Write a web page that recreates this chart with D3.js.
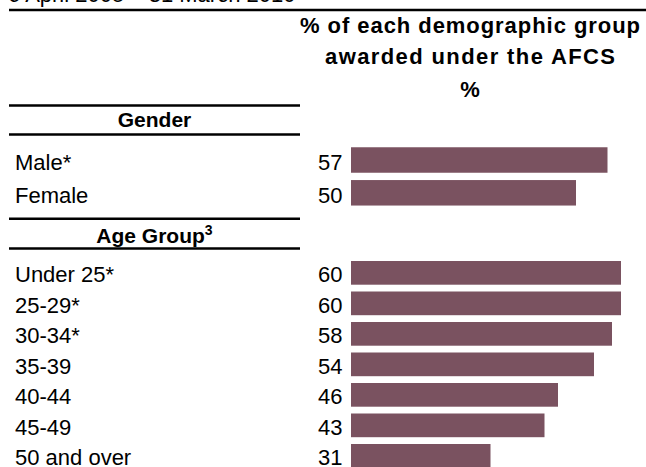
<!DOCTYPE html>
<html>
<head>
<meta charset="utf-8">
<script src="https://cdn.jsdelivr.net/npm/d3@7"></script>
<style>
  html, body { margin: 0; padding: 0; background: #fff; }
  svg { display: block; font-family: Arial, "Liberation Sans", sans-serif; }
</style>
</head>
<body>
<svg id="chart" width="646" height="467"></svg>
<script>
const periodTitle = "6 April 2005 \u2013 31 March 2010";
const headerLines = ["% of each demographic group", "awarded under the AFCS", "%"];

const genderLabels = ["Male*", "Female"];
const genderValues = [57, 50];

const ageLabels = ["Under 25*", "25-29*", "30-34*", "35-39", "40-44", "45-49", "50 and over"];
const ageValues = [60, 60, 58, 54, 46, 43, 31];

const barColour = "#7a5260";

const svg = d3.select("#chart");

const x = d3.scaleLinear().domain([0, 60]).range([351, 621]);

// header: period title cut off at the top, rules and column heading
svg.append("text")
    .attr("x", 8)
    .attr("y", 2)
    .attr("font-size", 22)
    .text(periodTitle);

const rule = (y, x1, x2) => svg.append("line")
    .attr("x1", x1).attr("x2", x2)
    .attr("y1", y).attr("y2", y)
    .attr("stroke", "#000")
    .attr("stroke-width", 2.5);

rule(10, 9, 646);
rule(105.5, 9, 300);
rule(134.5, 9, 300);
rule(218.7, 9, 300);
rule(248.5, 9, 300);

const headerY = [33, 63.5, 97];
const headerLen = [340, 290, null];
svg.selectAll(".col-head")
    .data(headerLines)
    .join("text")
    .attr("class", "col-head")
    .attr("x", 470)
    .attr("y", (_, i) => headerY[i])
    .attr("text-anchor", "middle")
    .attr("font-size", 22)
    .attr("font-weight", "bold")
    .each(function(d, i) {
        if (headerLen[i]) d3.select(this).attr("textLength", headerLen[i]).attr("lengthAdjust", "spacing");
    })
    .text(d => d);

svg.append("text")
    .attr("x", 154.5)
    .attr("y", 126.7)
    .attr("text-anchor", "middle")
    .attr("font-size", 21)
    .attr("font-weight", "bold")
    .text("Gender");

const ageHead = svg.append("text")
    .attr("x", 154.5)
    .attr("y", 243.3)
    .attr("text-anchor", "middle")
    .attr("font-size", 21)
    .attr("font-weight", "bold");
ageHead.append("tspan").text("Age Group");
ageHead.append("tspan").attr("font-size", 14).attr("dy", -8).text("3");

// one block of rows per group
const drawGroup = (labels, values, range) => {
    const y = d3.scaleBand()
        .domain(labels)
        .range(range)
        .paddingInner(0.223)
        .paddingOuter(0.1115);

    const rows = svg.append("g")
        .selectAll("g")
        .data(labels.map((label, i) => ({ label, value: values[i] })))
        .join("g");

    rows.append("rect")
        .attr("x", x(0))
        .attr("y", d => y(d.label))
        .attr("width", d => x(d.value) - x(0))
        .attr("height", y.bandwidth())
        .attr("fill", barColour);

    rows.append("text")
        .attr("x", 15)
        .attr("y", d => y(d.label) + y.bandwidth() - 2.5)
        .attr("font-size", 22)
        .text(d => d.label);

    rows.append("text")
        .attr("x", x(0) - 8.5)
        .attr("y", d => y(d.label) + y.bandwidth() - 2.5)
        .attr("text-anchor", "end")
        .attr("font-size", 22)
        .text(d => d.value);
};

drawGroup(genderLabels, genderValues, [143.6, 209.2]);
drawGroup(ageLabels, ageValues, [257.6, 471.1]);
</script>
</body>
</html>
